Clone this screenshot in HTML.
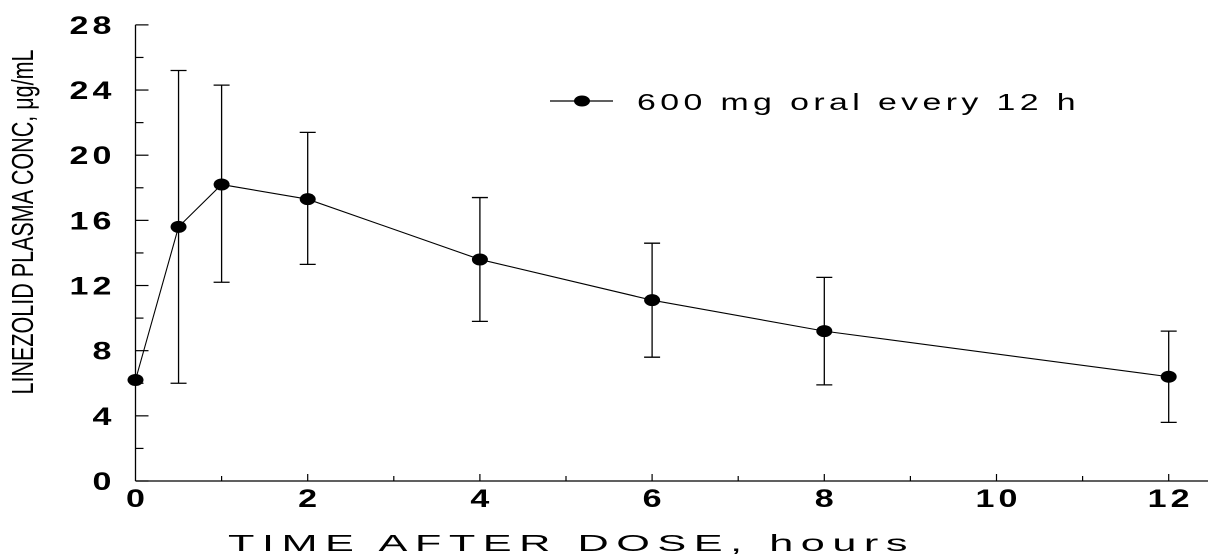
<!DOCTYPE html>
<html><head><meta charset="utf-8"><style>
html,body{margin:0;padding:0;background:#fff;}
svg{display:block;font-family:"Liberation Sans",Arial,sans-serif;}
</style></head><body>
<svg id="chart" width="1220" height="560" viewBox="0 0 1220 560" xmlns="http://www.w3.org/2000/svg">
<g id="axes"></g>
<g id="series"></g>
<text transform="translate(33,222) rotate(-90)" text-anchor="middle" font-size="31" textLength="345" lengthAdjust="spacingAndGlyphs" fill="#000">LINEZOLID PLASMA CONC, μg/mL</text>
<text x="228" y="551" font-size="23" letter-spacing="4" textLength="687" lengthAdjust="spacingAndGlyphs" fill="#000">TIME AFTER DOSE, hours</text>
<g>
<line x1="550" y1="101" x2="613" y2="101" stroke="#000" stroke-width="1.3"/>
<ellipse cx="582" cy="101" rx="8" ry="5.5" fill="#000"/>
<text x="637" y="110" font-size="23" letter-spacing="3" textLength="443" lengthAdjust="spacingAndGlyphs" fill="#000">600 mg oral every 12 h</text>
</g>
</svg>
<script>
const times=[0,0.5,1,2,4,6,8,12];
const means=[6.2,15.6,18.2,17.3,13.6,11.1,9.2,6.4];
const errLow=[null,6.0,12.2,13.3,9.8,7.6,5.9,3.6];
const errHigh=[null,25.2,24.3,21.4,17.4,14.6,12.5,9.2];
const xTicks=[0,2,4,6,8,10,12];
const yTicks=[0,4,8,12,16,20,24,28];
const NS="http://www.w3.org/2000/svg";
const X=t=>135.5+t*86.1;
const Y=v=>481-v*16.29;
function mk(tag,attrs,parent){const e=document.createElementNS(NS,tag);for(const k in attrs)e.setAttribute(k,attrs[k]);parent.appendChild(e);return e;}
const ax=document.getElementById('axes'),se=document.getElementById('series');
let e=mk('line',{x1:X(0),y1:Y(0),x2:X(0),y2:Y(28),stroke:'#000','stroke-width':1.3},ax);


e=mk('line',{x1:X(0),y1:Y(0),x2:1208,y2:Y(0),stroke:'#000','stroke-width':1.3},ax);


for(let v=0;v<=28;v+=2){
  const major=v%4===0;
  e=mk('line',{x1:X(0),y1:Y(v),x2:X(0)+(major?13:8),y2:Y(v),stroke:'#000','stroke-width':1.2},ax);
  
  
}
for(let t=1;t<=12.5;t+=1){
  e=mk('line',{x1:X(t),y1:Y(0),x2:X(t),y2:Y(0)-(t%2===0?7:5),stroke:'#000','stroke-width':1.2},ax);
  
  
}
yTicks.forEach(v=>{
  const s=String(v),w=s.length*23;
  e=mk('text',{x:X(0)-20-w,y:Y(v)+9,'font-size':25,'font-weight':'bold','letter-spacing':3,textLength:w,lengthAdjust:'spacingAndGlyphs',fill:'#000'},ax);
  e.textContent=s;
  
  
});
xTicks.forEach(t=>{
  const s=String(t),w=s.length*23;
  e=mk('text',{x:X(t)+2-w/2,y:507,'font-size':25,'font-weight':'bold','letter-spacing':3,textLength:w,lengthAdjust:'spacingAndGlyphs',fill:'#000'},ax);
  e.textContent=s;
  
  
});
times.forEach((t,i)=>{
  if(errLow[i]==null)return;
  const g=mk('g',{stroke:'#000','stroke-width':1.3},se);
  
  
  mk('line',{x1:X(t),y1:Y(errLow[i]),x2:X(t),y2:Y(errHigh[i])},g);
  mk('line',{x1:X(t)-8,y1:Y(errLow[i]),x2:X(t)+8,y2:Y(errLow[i])},g);
  mk('line',{x1:X(t)-8,y1:Y(errHigh[i]),x2:X(t)+8,y2:Y(errHigh[i])},g);
});
e=mk('polyline',{points:times.map((t,i)=>X(t)+','+Y(means[i])).join(' '),fill:'none',stroke:'#000','stroke-width':1.1},se);


times.forEach((t,i)=>{
  e=mk('ellipse',{cx:X(t),cy:Y(means[i]),rx:8,ry:6,fill:'#000'},se);
  
  
});
</script>
</body></html>
